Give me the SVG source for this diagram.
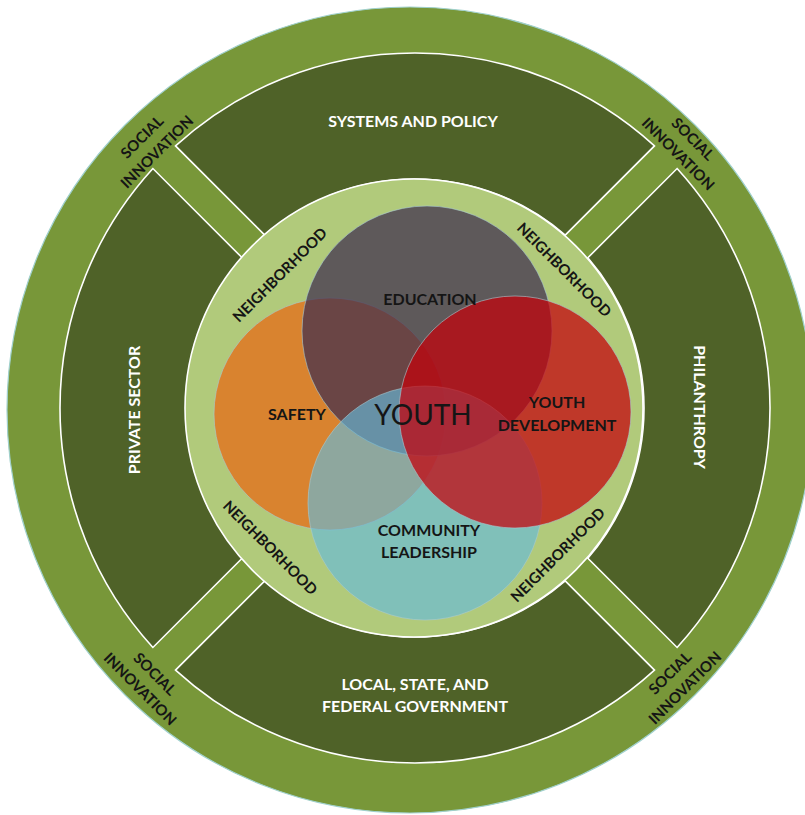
<svg xmlns="http://www.w3.org/2000/svg" width="805" height="815" viewBox="0 0 805 815">
  <style>
    .seg { fill: #4f6228; stroke: #ffffff; stroke-width: 1.6; }
    .lbl { font-family: Lato, "Liberation Sans", sans-serif; font-weight: 700; font-size: 16px; text-anchor: middle; }
    .wh { fill: #ffffff; }
    .dk { fill: #151515; }
    .ring { font-family: Lato, "Liberation Sans", sans-serif; font-weight: 700; font-size: 15px; text-anchor: middle; fill: #151515; }
    .venn { stroke: #a9cbd3; stroke-width: 1; stroke-opacity: 0.6; }
  </style>
  <rect width="805" height="815" fill="#ffffff"/>
  <g id="outer-ring">
    <circle cx="410" cy="410" r="403" fill="#789739" stroke="#9fd0cc" stroke-width="1.2"/>
  </g>
  <g id="systems-and-policy">
    <path class="seg" d="M 264.78,235.15 L 175.54,145.91 A 355 355 0 0 1 654.46,145.91 L 565.22,235.15 A 229 229 0 0 0 264.78,235.15 Z"/>
    <text class="lbl wh" x="413" y="127">SYSTEMS AND POLICY</text>
  </g>
  <g id="philanthropy">
    <path class="seg" d="M 587.85,257.78 L 677.09,168.54 A 355 355 0 0 1 677.09,647.46 L 587.85,558.22 A 229 229 0 0 0 587.85,257.78 Z"/>
    <text class="lbl wh" transform="translate(700,407) rotate(90)" x="0" y="6">PHILANTHROPY</text>
  </g>
  <g id="local-state-federal-government">
    <path class="seg" d="M 565.22,580.85 L 654.46,670.09 A 355 355 0 0 1 175.54,670.09 L 264.78,580.85 A 229 229 0 0 0 565.22,580.85 Z"/>
    <text class="lbl wh" x="415" y="690">LOCAL, STATE, AND</text>
    <text class="lbl wh" x="415" y="712">FEDERAL GOVERNMENT</text>
  </g>
  <g id="private-sector">
    <path class="seg" d="M 242.15,558.22 L 152.91,647.46 A 355 355 0 0 1 152.91,168.54 L 242.15,257.78 A 229 229 0 0 0 242.15,558.22 Z"/>
    <text class="lbl wh" transform="translate(134,410) rotate(-90)" x="0" y="6">PRIVATE SECTOR</text>
  </g>
  <g id="neighborhood">
    <circle cx="414" cy="408" r="229" fill="#b1ca7b" stroke="#ffffff" stroke-width="1.6"/>
    <text class="ring" transform="translate(280,275) rotate(-45)" x="0" y="5">NEIGHBORHOOD</text>
    <text class="ring" transform="translate(564,270) rotate(45)" x="0" y="5">NEIGHBORHOOD</text>
    <text class="ring" transform="translate(270,548) rotate(45)" x="0" y="5">NEIGHBORHOOD</text>
    <text class="ring" transform="translate(558,555) rotate(-45)" x="0" y="5">NEIGHBORHOOD</text>
  </g>
  <g id="social-innovation-labels">
    <g transform="translate(150,145) rotate(-45)">
      <text class="ring" x="0" y="-6">SOCIAL</text>
      <text class="ring" x="0" y="15">INNOVATION</text>
    </g>
    <g transform="translate(685,147) rotate(45)">
      <text class="ring" x="0" y="-6">SOCIAL</text>
      <text class="ring" x="0" y="15">INNOVATION</text>
    </g>
    <g transform="translate(147,682) rotate(45)">
      <text class="ring" x="0" y="-6">SOCIAL</text>
      <text class="ring" x="0" y="15">INNOVATION</text>
    </g>
    <g transform="translate(678,681) rotate(-45)">
      <text class="ring" x="0" y="-6">SOCIAL</text>
      <text class="ring" x="0" y="15">INNOVATION</text>
    </g>
  </g>
  <g id="safety">
    <circle class="venn" cx="330" cy="414" r="116" fill="#d9832f"/>
  </g>
  <g id="education">
    <circle class="venn" cx="427" cy="331" r="125" fill="#3f2e4d" fill-opacity="0.72"/>
  </g>
  <g id="community-leadership">
    <circle class="venn" cx="425" cy="503" r="117" fill="#65bada" fill-opacity="0.65"/>
  </g>
  <g id="youth-development">
    <circle class="venn" cx="515" cy="412" r="116" fill="#c5000a" fill-opacity="0.72"/>
  </g>
  <g id="venn-labels">
    <text class="lbl dk" x="430" y="305">EDUCATION</text>
    <text class="lbl dk" x="297" y="420">SAFETY</text>
    <text class="lbl dk" x="557" y="408">YOUTH</text>
    <text class="lbl dk" x="557" y="431">DEVELOPMENT</text>
    <text class="lbl dk" x="429" y="536">COMMUNITY</text>
    <text class="lbl dk" x="429" y="558">LEADERSHIP</text>
  </g>
  <g id="youth">
    <text x="423" y="425" font-family="Lato, 'Liberation Sans', sans-serif" font-size="28" text-anchor="middle" fill="#151515">YOUTH</text>
  </g>
</svg>
